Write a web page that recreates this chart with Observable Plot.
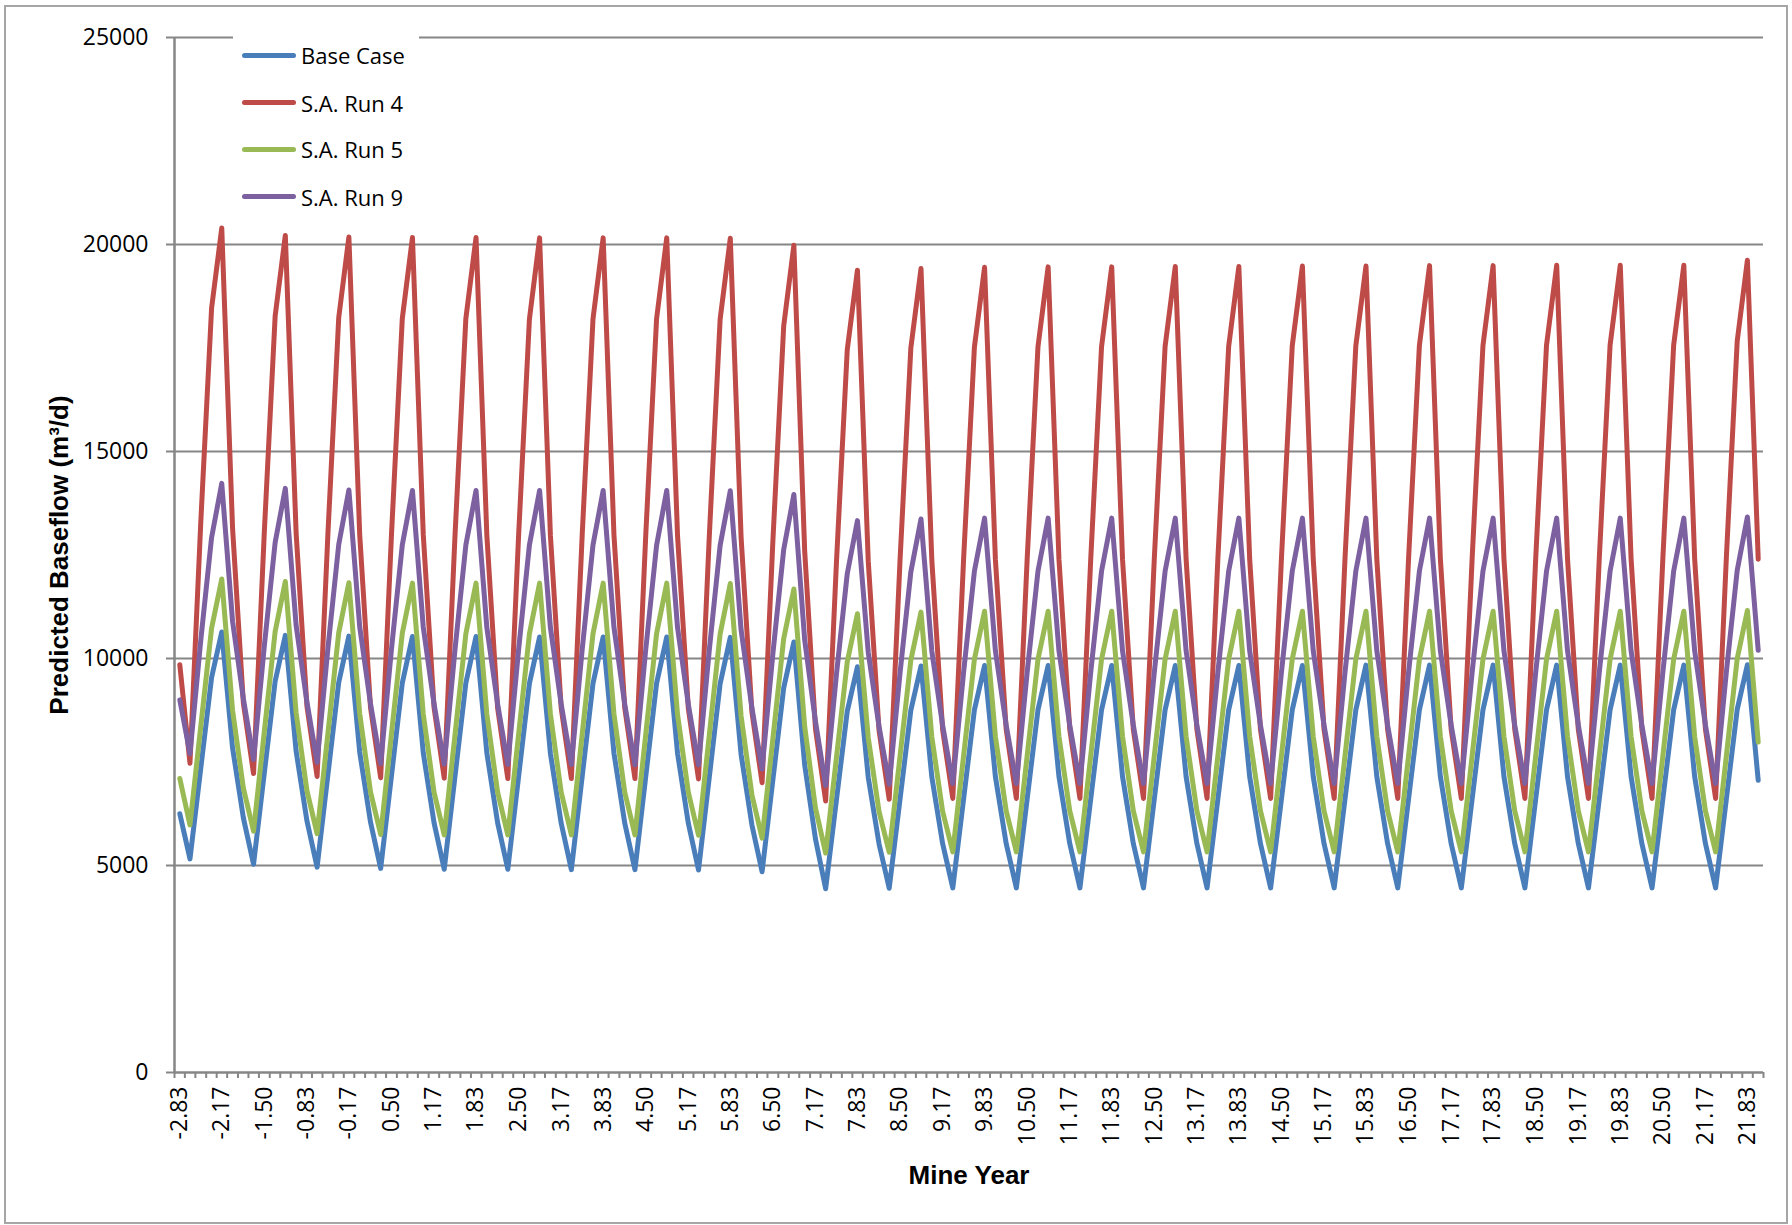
<!DOCTYPE html>
<html>
<head>
<meta charset="utf-8">
<script src="https://cdn.jsdelivr.net/npm/d3@7"></script>
<script src="https://cdn.jsdelivr.net/npm/@observablehq/plot@0.6"></script>
<style>
  body { margin: 0; background: #fff; }
  #chart { position: relative; width: 1792px; height: 1225px; overflow: hidden; background: #fff; }
  #chart svg { position: absolute; left: 0; top: 0; }
  #frame { position: absolute; left: 4px; top: 5px; width: 1780px; height: 1215px; border: 2px solid #a6a6a6; pointer-events: none; }
  #legend { position: absolute; left: 233px; top: 28px; width: 186px; height: 190px; background: #fff;
            font-family: "Open Sans", sans-serif; font-size: 22px; color: #000; }
  .item { position: absolute; left: 9px; height: 30px; display: flex; align-items: center; white-space: nowrap; }
  .swatch { width: 54px; height: 5px; border-radius: 3px; margin-right: 5px; }
</style>
</head>
<body>
<div id="chart"><div id="frame"></div></div>
<script>
// Mine year of each bi-monthly model output
const mineYear = [
  -2.83, -2.67, -2.5, -2.33, -2.17, -2, -1.83, -1.67, -1.5, -1.33, -1.17, -1,
  -0.83, -0.67, -0.5, -0.33, -0.17, 0, 0.17, 0.33, 0.5, 0.67, 0.83, 1,
  1.17, 1.33, 1.5, 1.67, 1.83, 2, 2.17, 2.33, 2.5, 2.67, 2.83, 3,
  3.17, 3.33, 3.5, 3.67, 3.83, 4, 4.17, 4.33, 4.5, 4.67, 4.83, 5,
  5.17, 5.33, 5.5, 5.67, 5.83, 6, 6.17, 6.33, 6.5, 6.67, 6.83, 7,
  7.17, 7.33, 7.5, 7.67, 7.83, 8, 8.17, 8.33, 8.5, 8.67, 8.83, 9,
  9.17, 9.33, 9.5, 9.67, 9.83, 10, 10.17, 10.33, 10.5, 10.67, 10.83, 11,
  11.17, 11.33, 11.5, 11.67, 11.83, 12, 12.17, 12.33, 12.5, 12.67, 12.83, 13,
  13.17, 13.33, 13.5, 13.67, 13.83, 14, 14.17, 14.33, 14.5, 14.67, 14.83, 15,
  15.17, 15.33, 15.5, 15.67, 15.83, 16, 16.17, 16.33, 16.5, 16.67, 16.83, 17,
  17.17, 17.33, 17.5, 17.67, 17.83, 18, 18.17, 18.33, 18.5, 18.67, 18.83, 19,
  19.17, 19.33, 19.5, 19.67, 19.83, 20, 20.17, 20.33, 20.5, 20.67, 20.83, 21,
  21.17, 21.33, 21.5, 21.67, 21.83, 22
];

// Labelled years on the category axis
const xTickLabels = [
  -2.83, -2.17, -1.5, -0.83, -0.17, 0.5, 1.17, 1.83, 2.5, 3.17, 3.83, 4.5, 5.17,
  5.83, 6.5, 7.17, 7.83, 8.5, 9.17, 9.83, 10.5, 11.17, 11.83, 12.5, 13.17, 13.83,
  14.5, 15.17, 15.83, 16.5, 17.17, 17.83, 18.5, 19.17, 19.83, 20.5, 21.17, 21.83
];

const yTicks = [0, 5000, 10000, 15000, 20000, 25000];

// Predicted baseflow, m3/d
const baseCase = [6250,
  5160, 7350, 9540, 10640, 7840, 6150,
  5030, 7240, 9450, 10560, 7760, 6080,
  4960, 7190, 9420, 10540, 7740, 6050,
  4930, 7170, 9410, 10530, 7720, 6030,
  4910, 7160, 9410, 10530, 7720, 6030,
  4910, 7150, 9400, 10520, 7710, 6020,
  4900, 7150, 9400, 10520, 7710, 6020,
  4900, 7150, 9400, 10520, 7710, 6020,
  4890, 7140, 9390, 10510, 7680, 5980,
  4850, 7070, 9290, 10400, 7430, 5640,
  4440, 6590, 8730, 9800, 7130, 5520,
  4450, 6600, 8750, 9820, 7140, 5530,
  4460, 6610, 8760, 9830, 7150, 5530,
  4460, 6610, 8760, 9830, 7150, 5530,
  4460, 6610, 8760, 9830, 7150, 5530,
  4460, 6610, 8760, 9830, 7150, 5530,
  4460, 6610, 8760, 9830, 7150, 5530,
  4460, 6610, 8760, 9830, 7150, 5530,
  4460, 6610, 8760, 9840, 7150, 5530,
  4460, 6610, 8760, 9840, 7150, 5530,
  4460, 6610, 8760, 9840, 7150, 5530,
  4460, 6610, 8760, 9840, 7150, 5530,
  4460, 6610, 8760, 9840, 7150, 5530,
  4460, 6610, 8760, 9840, 7150, 5530,
  4460, 6620, 8770, 9850, 7060
];

const runFour = [9850,
  7470, 13290, 18460, 20400, 13150, 8930,
  7220, 13070, 18270, 20220, 13030, 8850,
  7150, 13010, 18230, 20180, 13000, 8820,
  7120, 12990, 18210, 20170, 12990, 8810,
  7110, 12990, 18210, 20170, 12980, 8800,
  7100, 12980, 18200, 20160, 12980, 8800,
  7100, 12980, 18200, 20160, 12980, 8800,
  7100, 12980, 18200, 20160, 12970, 8790,
  7090, 12970, 18190, 20150, 12920, 8710,
  7000, 12840, 18030, 19980, 12600, 8300,
  6560, 12330, 17460, 19380, 12350, 8260,
  6600, 12370, 17500, 19420, 12380, 8280,
  6620, 12400, 17520, 19450, 12400, 8290,
  6620, 12400, 17530, 19460, 12400, 8290,
  6620, 12400, 17530, 19460, 12400, 8290,
  6620, 12410, 17540, 19470, 12410, 8290,
  6620, 12410, 17540, 19470, 12410, 8290,
  6620, 12410, 17550, 19480, 12410, 8290,
  6620, 12410, 17550, 19480, 12410, 8290,
  6620, 12420, 17560, 19490, 12420, 8290,
  6620, 12420, 17560, 19490, 12420, 8290,
  6620, 12420, 17570, 19500, 12420, 8290,
  6620, 12420, 17570, 19500, 12420, 8290,
  6620, 12420, 17570, 19500, 12420, 8290,
  6620, 12470, 17670, 19620, 12400
];

const runFive = [7100,
  5980, 8360, 10730, 11920, 8750, 6870,
  5830, 8240, 10650, 11860, 8690, 6810,
  5770, 8190, 10620, 11830, 8670, 6780,
  5750, 8180, 10610, 11820, 8660, 6770,
  5740, 8170, 10600, 11820, 8660, 6770,
  5740, 8170, 10600, 11820, 8660, 6770,
  5740, 8170, 10600, 11820, 8660, 6770,
  5740, 8170, 10600, 11820, 8650, 6770,
  5730, 8160, 10590, 11810, 8610, 6710,
  5660, 8070, 10480, 11680, 8360, 6390,
  5300, 7610, 9920, 11080, 8090, 6300,
  5320, 7640, 9960, 11120, 8110, 6310,
  5330, 7650, 9980, 11140, 8120, 6320,
  5330, 7650, 9980, 11140, 8120, 6320,
  5330, 7650, 9980, 11140, 8120, 6320,
  5330, 7650, 9980, 11140, 8120, 6320,
  5330, 7650, 9980, 11140, 8120, 6320,
  5330, 7650, 9980, 11140, 8120, 6320,
  5330, 7650, 9980, 11140, 8120, 6320,
  5330, 7650, 9980, 11140, 8120, 6320,
  5330, 7650, 9980, 11140, 8120, 6320,
  5330, 7650, 9980, 11140, 8120, 6320,
  5330, 7650, 9980, 11140, 8120, 6320,
  5330, 7650, 9980, 11140, 8120, 6320,
  5330, 7660, 10000, 11160, 7980
];

const runNine = [9000,
  7700, 10440, 12920, 14230, 10900, 9030,
  7560, 10310, 12800, 14110, 10800, 8950,
  7490, 10250, 12750, 14070, 10770, 8910,
  7460, 10230, 12740, 14060, 10760, 8900,
  7450, 10230, 12740, 14060, 10750, 8900,
  7440, 10220, 12740, 14060, 10750, 8900,
  7440, 10220, 12740, 14060, 10750, 8890,
  7430, 10220, 12730, 14060, 10750, 8890,
  7430, 10210, 12730, 14050, 10690, 8810,
  7330, 10120, 12630, 13960, 10450, 8480,
  6930, 9620, 12050, 13330, 10150, 8360,
  6960, 9650, 12090, 13370, 10180, 8390,
  6980, 9670, 12110, 13390, 10190, 8390,
  6980, 9670, 12110, 13390, 10190, 8390,
  6980, 9670, 12110, 13390, 10190, 8390,
  6980, 9670, 12110, 13390, 10190, 8390,
  6980, 9670, 12110, 13390, 10190, 8390,
  6980, 9670, 12110, 13390, 10190, 8390,
  6980, 9670, 12110, 13390, 10190, 8390,
  6980, 9670, 12110, 13390, 10190, 8390,
  6980, 9670, 12110, 13390, 10190, 8390,
  6980, 9670, 12110, 13390, 10190, 8390,
  6980, 9670, 12110, 13390, 10190, 8390,
  6980, 9670, 12110, 13390, 10190, 8390,
  6980, 9690, 12130, 13420, 10200
];

const seriesNames = ["Base Case", "S.A. Run 4", "S.A. Run 5", "S.A. Run 9"];
const seriesColors = ["#4a7ebb", "#be4b48", "#98b954", "#7d60a0"];
const seriesValues = [baseCase, runFour, runFive, runNine];

// Long table for the line mark
const rows = seriesNames.flatMap((name, s) =>
  seriesValues[s].map((flow, i) => ({ year: mineYear[i], flow, series: name }))
);

// Category boundaries: half a step either side of each output year
const step = (mineYear[mineYear.length - 1] - mineYear[0]) / (mineYear.length - 1);
const xMin = mineYear[0] - step / 2;
const xMax = mineYear[mineYear.length - 1] + step / 2;
const boundaries = [xMin, ...mineYear.slice(1).map((d, i) => (d + mineYear[i]) / 2), xMax];

const axisGray = "#868686";
const titleFont = "'Liberation Sans', Arial, sans-serif";

const chart = Plot.plot({
  width: 1792,
  height: 1225,
  marginLeft: 174,
  marginRight: 29,
  marginTop: 37,
  marginBottom: 153,
  style: { fontFamily: "'Open Sans', sans-serif", fontSize: "23px", color: "#000", background: "transparent" },
  x: { type: "linear", domain: [xMin, xMax] },
  y: { domain: [0, 25000] },
  color: { domain: seriesNames, range: seriesColors },
  marks: [
    Plot.gridY(yTicks.filter(d => d > 0), { stroke: axisGray, strokeOpacity: 1, strokeWidth: 2 }),
    Plot.ruleY([0], { stroke: axisGray, strokeWidth: 2.5 }),
    Plot.ruleX([xMin], { stroke: axisGray, strokeWidth: 2.5 }),
    Plot.axisY({ ticks: yTicks, tickSize: 8, tickPadding: 18, stroke: axisGray, strokeWidth: 2,
                 fill: "#000", label: null, tickFormat: d => String(d) }),
    Plot.axisX({ ticks: boundaries, tickSize: 6, tickFormat: () => "", label: null,
                 stroke: axisGray, strokeWidth: 2 }),
    Plot.axisX({ ticks: xTickLabels, tickSize: 0, tickPadding: 14, tickRotate: -90,
                 tickFormat: d => d.toFixed(2), fill: "#000", label: null }),
    Plot.line(rows, { x: "year", y: "flow", z: "series", stroke: "series",
                      strokeWidth: 5, strokeLinejoin: "round", strokeLinecap: "round" }),
    Plot.text(["Predicted Baseflow (m³/d)"], {
      text: d => d, frameAnchor: "left", dx: -115, rotate: -90,
      textAnchor: "middle", lineAnchor: "middle",
      fontFamily: titleFont, fontWeight: "bold", fontSize: 26, fill: "#000"
    }),
    Plot.text(["Mine Year"], {
      text: d => d, frameAnchor: "bottom", dy: 103,
      textAnchor: "middle", lineAnchor: "middle",
      fontFamily: titleFont, fontWeight: "bold", fontSize: 26, fill: "#000"
    })
  ]
});

const host = document.getElementById("chart");
host.insertBefore(chart, host.firstChild);

// Legend box in the upper-left of the plot area
const legend = document.createElement("div");
legend.id = "legend";
const itemTops = [12, 59.7, 106.3, 153.7];
seriesNames.forEach((name, i) => {
  const item = document.createElement("div");
  item.className = "item";
  item.style.top = itemTops[i] + "px";
  const sw = document.createElement("div");
  sw.className = "swatch";
  sw.style.background = seriesColors[i];
  const label = document.createElement("span");
  label.textContent = name;
  item.appendChild(sw);
  item.appendChild(label);
  legend.appendChild(item);
});
host.appendChild(legend);
</script>
</body>
</html>
